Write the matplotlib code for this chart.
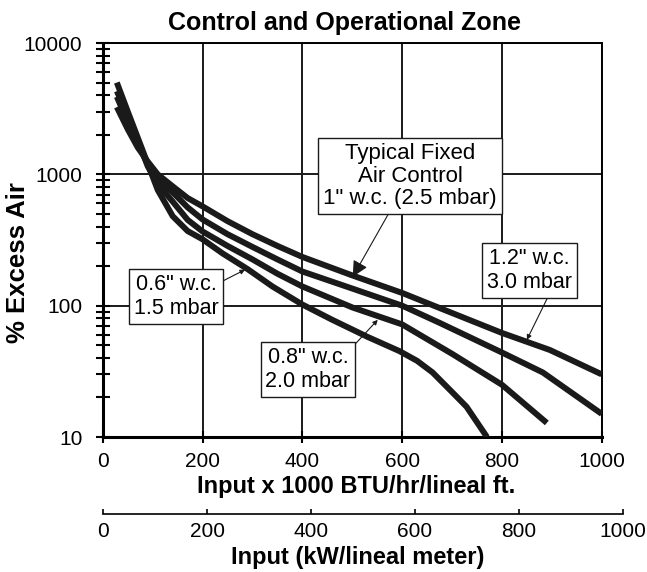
import numpy as np
import matplotlib
matplotlib.use("Agg")
import matplotlib.pyplot as plt
from matplotlib.ticker import LogLocator, NullFormatter, FixedLocator

plt.rcParams['font.family'] = ['Liberation Sans', 'DejaVu Sans']

# curves: input (x1000 BTU/hr/lineal ft) vs % excess air
x_06 = [28, 50, 70, 90, 110, 140, 170, 200, 240, 290, 340, 400, 460, 530, 595, 630, 661, 700, 729, 770]
y_06 = [5000, 3000, 1900, 1200, 760, 480, 370, 320, 250, 190, 140, 102, 78, 58, 45, 38, 31, 22, 17, 10]

x_08 = [28, 50, 70, 90, 110, 140, 170, 200, 250, 300, 350, 400, 500, 600, 700, 800, 890]
y_08 = [4300, 2800, 1800, 1150, 850, 620, 450, 367, 285, 225, 175, 140, 97, 72, 43, 25, 12.8]

x_10 = [28, 50, 70, 90, 110, 140, 170, 200, 250, 300, 350, 400, 500, 600, 675, 800, 882, 1000]
y_10 = [3900, 2500, 1700, 1200, 930, 730, 560, 453, 350, 280, 225, 182, 135, 100, 74, 44, 31, 15]

x_12 = [28, 50, 70, 90, 110, 140, 170, 200, 250, 300, 350, 400, 500, 600, 675, 800, 896, 1000]
y_12 = [3250, 2200, 1600, 1250, 1000, 810, 660, 570, 440, 350, 285, 235, 170, 125, 96, 62, 46, 30]

x_ticks = [0, 200, 400, 600, 800, 1000]
kw_ticks = [0, 200, 400, 600, 800, 1000]

fig = plt.figure(figsize=(6.47, 5.72), dpi=100)
ax = fig.add_axes([0.159, 0.236, 0.771, 0.6888])

line_kw = dict(color='#1a1a1a', lw=4.3, solid_capstyle='butt', solid_joinstyle='round', zorder=3)
for xs, ys in [(x_06, y_06), (x_08, y_08), (x_10, y_10), (x_12, y_12)]:
    ax.plot(xs, ys, **line_kw)

ax.set_yscale('log')
ax.set_xlim(0, 1000)
ax.set_ylim(10, 10000)
ax.set_xticks(x_ticks)
ax.set_yticks([10, 100, 1000, 10000])
ax.set_yticklabels(['10', '100', '1000', '10000'])
ax.yaxis.set_minor_locator(LogLocator(base=10, subs=np.arange(2, 10)))
ax.yaxis.set_minor_formatter(NullFormatter())

ax.grid(True, which='major', color='#1a1a1a', lw=1.4)
for s in ['top', 'right']:
    ax.spines[s].set_linewidth(1.4)
for s in ['left', 'bottom']:
    ax.spines[s].set_linewidth(2.2)
ax.tick_params(axis='y', which='major', direction='inout', length=9.5, width=1.5, labelsize=15, pad=10)
ax.tick_params(axis='y', which='minor', direction='inout', length=9.5, width=1.5)
ax.tick_params(axis='x', which='major', direction='inout', length=8, width=1.5, labelsize=15, pad=6.5)

ax.set_title('Control and Operational Zone', fontsize=18, fontweight='bold', pad=9.5, x=0.485)
ax.set_ylabel('% Excess Air', fontsize=18.5, fontweight='bold')
ax.yaxis.set_label_coords(30 / 647, 1 - 263 / 572, transform=fig.transFigure)
ax.set_xlabel('Input x 1000 BTU/hr/lineal ft.', fontsize=17, fontweight='bold')
ax.xaxis.set_label_coords(356.5 / 647, 1 - 474.5 / 572, transform=fig.transFigure)

box = dict(boxstyle='square,pad=0.22', fc='white', ec='#1a1a1a', lw=1.0)
small_arrow = dict(arrowstyle='-|>', color='#1a1a1a', lw=0.8, mutation_scale=7, shrinkA=0, shrinkB=0)

ax.annotate('0.6" w.c.\n1.5 mbar', xy=(285, 188), xytext=(147, 117), fontsize=15.5,
            ha='center', va='center', bbox=box, linespacing=1.2, zorder=5,
            arrowprops=dict(small_arrow, relpos=(1.0, 0.8)))
ax.annotate('0.8" w.c.\n2.0 mbar', xy=(551, 78), xytext=(411, 32.7), fontsize=15.5,
            ha='center', va='center', bbox=box, linespacing=1.2, zorder=5,
            arrowprops=dict(small_arrow, relpos=(1.0, 0.95)))
ax.annotate('1.2" w.c.\n3.0 mbar', xy=(850, 55), xytext=(855, 185), fontsize=15.5,
            ha='center', va='center', bbox=box, linespacing=1.2, zorder=5,
            arrowprops=dict(small_arrow, relpos=(0.74, 0.0)))
ax.annotate('Typical Fixed\nAir Control\n1" w.c. (2.5 mbar)', xy=(501, 166), xytext=(616, 969),
            fontsize=16, ha='center', va='center', bbox=box, linespacing=1.1, zorder=5,
            arrowprops=dict(arrowstyle='-|>', color='#1a1a1a', lw=0.8, mutation_scale=24,
                            shrinkA=0, shrinkB=0, relpos=(0.39, 0.0)))

# secondary metric scale below the chart
ax2 = fig.add_axes([103.3 / 647, 1 - 514 / 572, 519.4 / 647, 0.0001])
ax2.set_xlim(0, 1000)
ax2.set_yticks([])
ax2.patch.set_visible(False)
for s in ['top', 'right', 'left']:
    ax2.spines[s].set_visible(False)
ax2.spines['bottom'].set_linewidth(1.2)
ax2.xaxis.set_major_locator(FixedLocator(kw_ticks))
ax2.tick_params(axis='x', direction='in', length=3.6, width=1.2, labelsize=15, pad=5.5)
ax2.set_xlabel('Input (kW/lineal meter)', fontsize=17, fontweight='bold')
ax2.xaxis.set_label_coords(358 / 647, 1 - 546 / 572, transform=fig.transFigure)

fig.savefig('out.png', dpi=100)
